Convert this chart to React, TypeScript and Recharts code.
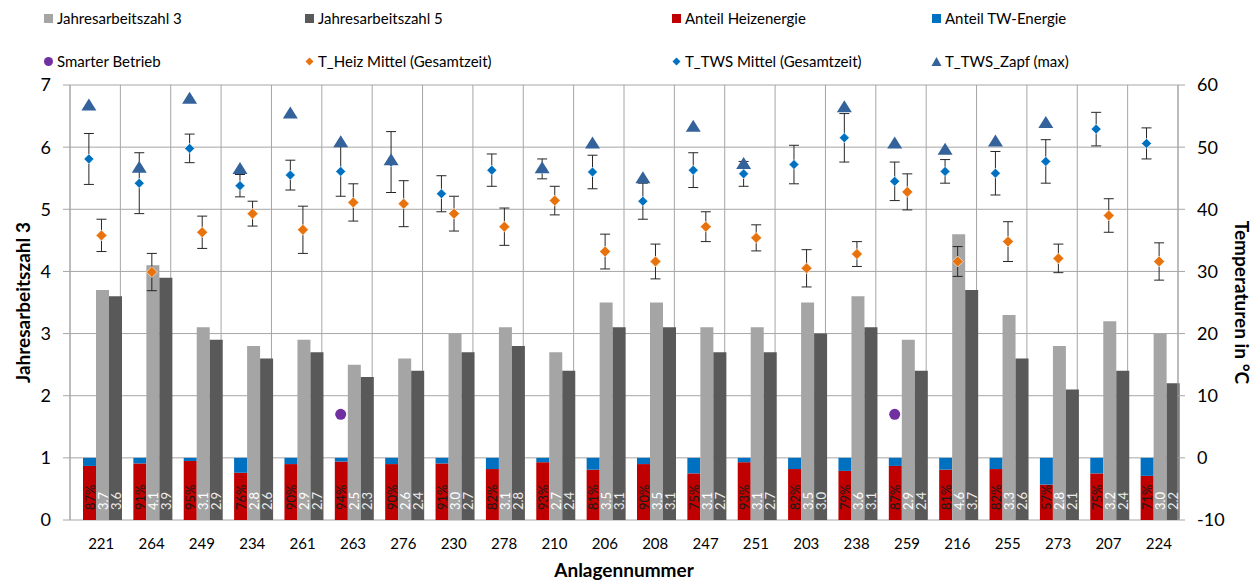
import React from 'react';
import {
  ComposedChart,
  Bar,
  Scatter,
  XAxis,
  YAxis,
  CartesianGrid,
  ErrorBar,
  LabelList,
  Label,
} from 'recharts';

const anlagen = ['221', '264', '249', '234', '261', '263', '276', '230', '278', '210', '206', '208', '247', '251', '203', '238', '259', '216', '255', '273', '207', '224'];
const jaz3 = [3.7, 4.1, 3.1, 2.8, 2.9, 2.5, 2.6, 3.0, 3.1, 2.7, 3.5, 3.5, 3.1, 3.1, 3.5, 3.6, 2.9, 4.6, 3.3, 2.8, 3.2, 3.0];
const jaz5 = [3.6, 3.9, 2.9, 2.6, 2.7, 2.3, 2.4, 2.7, 2.8, 2.4, 3.1, 3.1, 2.7, 2.7, 3.0, 3.1, 2.4, 3.7, 2.6, 2.1, 2.4, 2.2];
const anteilHeiz = [87, 91, 95, 76, 90, 94, 90, 91, 82, 93, 81, 90, 75, 93, 82, 79, 87, 81, 82, 57, 75, 71];
const smarterBetrieb = [null, null, null, null, null, 1.7, null, null, null, null, null, null, null, null, null, null, 1.7, null, null, null, null, null];
const tHeiz = [35.8, 29.9, 36.3, 39.3, 36.7, 41.1, 40.9, 39.3, 37.2, 41.4, 33.2, 31.6, 37.2, 35.4, 30.5, 32.8, 42.8, 31.6, 34.8, 32.1, 39.0, 31.6];
const tHeizErr = [2.6, 3.0, 2.6, 2.0, 3.8, 3.0, 3.7, 2.8, 3.0, 2.3, 2.8, 2.8, 2.4, 2.1, 3.0, 2.0, 2.9, 2.4, 3.2, 2.3, 2.7, 3.0];
const tTws = [48.1, 44.2, 49.8, 43.8, 45.5, 46.1, 47.6, 42.5, 46.3, 46.5, 46.0, 41.3, 46.3, 45.7, 47.2, 51.5, 44.5, 46.1, 45.8, 47.7, 52.9, 50.6];
const tTwsErr = [4.1, 4.9, 2.3, 1.8, 2.4, 4.0, 4.9, 2.9, 2.6, 1.6, 2.7, 2.9, 2.8, 2.0, 3.1, 3.9, 3.1, 1.9, 3.5, 3.5, 2.7, 2.5];
const tTwsZapf = [56.7, 46.7, 57.8, 46.5, 55.4, 50.8, 47.9, null, null, 46.6, 50.6, 45.0, 53.3, 47.3, null, 56.4, 50.6, 49.6, 50.9, 53.9, null, null];
const jazTicks = [0, 1, 2, 3, 4, 5, 6, 7];
const tempTicks = [-10, 0, 10, 20, 30, 40, 50, 60];

const C_JAZ3 = '#A5A5A5';
const C_JAZ5 = '#595959';
const C_HEIZ = '#C00000';
const C_TW = '#0070C0';
const C_SMART = '#7030A0';
const C_THEIZ = '#E8720C';
const C_TTWS = '#0070C0';
const C_ZAPF = '#34629A';
const C_GRID = '#A6A6A6';
const FONT = 'Lato, "Open Sans", sans-serif';

// each category has 4 slots: empty, heat/TW stack, JAZ3, JAZ5
const slotPos = (i: number, slot: number) => i + (slot + 0.5) / 4;

const barData = anlagen.map((a, i) => ({
  anlage: a,
  pct: anteilHeiz[i],
  heiz: anteilHeiz[i] / 100,
  tw: 1 - anteilHeiz[i] / 100,
  jaz3: jaz3[i],
  jaz5: jaz5[i],
}));
const heizPoints = tHeiz.map((t, i) => ({ x: slotPos(i, 2), y: t, err: tHeizErr[i] }));
const twsPoints = tTws.map((t, i) => ({ x: slotPos(i, 1), y: t, err: tTwsErr[i] }));
const zapfPoints = tTwsZapf
  .map((t, i) => ({ x: slotPos(i, 1), y: t }))
  .filter((p) => p.y !== null);
const smartPoints = smarterBetrieb
  .map((v, i) => ({ x: slotPos(i, 1), y: v }))
  .filter((p) => p.y !== null);
const boundaryTicks = anlagen.map((_, i) => i).concat(anlagen.length);

const vertLabel = (color: string, suffix: string) => (props: any) => {
  const { x, y, width, height, value } = props;
  const cx = Number(x) + Number(width) / 2;
  const by = Number(y) + Number(height) - 10;
  return (
    <text
      x={cx}
      y={by}
      transform={`rotate(-90 ${cx} ${by})`}
      fill={color}
      fontSize={13}
      fontFamily={FONT}
      dominantBaseline="central"
      textAnchor="start"
    >
      {suffix === '' ? Number(value).toFixed(1) : `${value}${suffix}`}
    </text>
  );
};

const diamond = (color: string, r: number) => (props: any) => {
  const { cx, cy } = props;
  return (
    <polygon
      points={`${cx},${cy - r} ${cx + r},${cy} ${cx},${cy + r} ${cx - r},${cy}`}
      fill={color}
      stroke="#ffffff"
      strokeWidth={0.6}
    />
  );
};

const triangle = (props: any) => {
  const { cx, cy } = props;
  return <polygon points={`${cx},${cy - 7} ${cx + 7.5},${cy + 5} ${cx - 7.5},${cy + 5}`} fill={C_ZAPF} />;
};

const circle = (props: any) => <circle cx={props.cx} cy={props.cy} r={5.5} fill={C_SMART} />;

const nothing = () => <g />;

function LegendIcon({ kind, color }: { kind: string; color: string }) {
  return (
    <svg width={11} height={11} style={{ display: 'block' }}>
      {kind === 'square' && <rect x={1} y={1} width={9} height={9} fill={color} />}
      {kind === 'circle' && <circle cx={5.5} cy={5.5} r={4.5} fill={color} />}
      {kind === 'diamond' && <polygon points="5.5,1.5 9.5,5.5 5.5,9.5 1.5,5.5" fill={color} />}
      {kind === 'triangle' && <polygon points="5.5,1 10.5,10 0.5,10" fill={color} />}
    </svg>
  );
}

const legendCols = [43, 304, 671, 931];
const legendRows = [18, 61];
const legendItems = [
  { name: 'Jahresarbeitszahl 3', kind: 'square', color: C_JAZ3 },
  { name: 'Jahresarbeitszahl 5', kind: 'square', color: C_JAZ5 },
  { name: 'Anteil Heizenergie', kind: 'square', color: C_HEIZ },
  { name: 'Anteil TW-Energie', kind: 'square', color: C_TW },
  { name: 'Smarter Betrieb', kind: 'circle', color: C_SMART },
  { name: 'T_Heiz Mittel (Gesamtzeit)', kind: 'diamond', color: C_THEIZ },
  { name: 'T_TWS Mittel (Gesamtzeit)', kind: 'diamond', color: C_TTWS },
  { name: 'T_TWS_Zapf (max)', kind: 'triangle', color: C_ZAPF },
];

export default function App() {
  return (
    <div style={{ position: 'absolute', left: 0, top: 0, width: 1260, height: 584, background: '#fff', fontFamily: FONT }}>
      <ComposedChart
        width={1260}
        height={584}
        data={barData}
        margin={{ top: 85, right: 0, bottom: 0, left: 0 }}
        barCategoryGap={0}
        barGap={0}
      >
        <CartesianGrid xAxisId="n" yAxisId="left" stroke={C_GRID} />
        <XAxis
          xAxisId="n"
          dataKey="x"
          type="number"
          domain={[0, anlagen.length]}
          allowDataOverflow
          ticks={boundaryTicks}
          interval={0}
          tickFormatter={() => ''}
          tickSize={6}
          tickLine={{ stroke: C_GRID }}
          axisLine={{ stroke: C_GRID }}
          height={0}
        />
        <XAxis
          xAxisId="c"
          dataKey="anlage"
          type="category"
          interval={0}
          tickLine={false}
          axisLine={false}
          tickSize={6}
          tickMargin={12}
          height={64}
          tick={{ fontSize: 15, fill: '#000', dx: 6, fontFamily: FONT }}
        >
          <Label
            content={(p: any) => (
              <text
                x={p.viewBox.x + p.viewBox.width / 2}
                y={p.viewBox.y + 57}
                textAnchor="middle"
                fontSize={19}
                fontWeight="bold"
                fontFamily={FONT}
                fill="#000"
              >
                Anlagennummer
              </text>
            )}
          />
        </XAxis>
        <YAxis
          yAxisId="left"
          domain={[0, 7]}
          ticks={jazTicks}
          interval={0}
          width={70}
          tickSize={7}
          tickMargin={12}
          tickLine={{ stroke: C_GRID }}
          axisLine={{ stroke: C_GRID }}
          tick={{ fontSize: 18, fill: '#000', fontFamily: FONT }}
        >
          <Label
            content={(p: any) => {
              const x = p.viewBox.x + 22;
              const y = p.viewBox.y + p.viewBox.height / 2;
              return (
                <text
                  x={x}
                  y={y}
                  transform={`rotate(-90 ${x} ${y})`}
                  textAnchor="middle"
                  dominantBaseline="central"
                  fontSize={19}
                  fontWeight="bold"
                  fontFamily={FONT}
                  fill="#000"
                >
                  Jahresarbeitszahl 3
                </text>
              );
            }}
          />
        </YAxis>
        <YAxis
          yAxisId="right"
          orientation="right"
          domain={[-10, 60]}
          ticks={tempTicks}
          interval={0}
          width={82}
          tickSize={7}
          tickMargin={12}
          tickLine={{ stroke: C_GRID }}
          axisLine={{ stroke: C_GRID }}
          tick={{ fontSize: 18, fill: '#000', fontFamily: FONT }}
        >
          <Label
            content={(p: any) => {
              const x = p.viewBox.x + 64;
              const y = p.viewBox.y + p.viewBox.height / 2;
              return (
                <text
                  x={x}
                  y={y}
                  transform={`rotate(90 ${x} ${y})`}
                  textAnchor="middle"
                  dominantBaseline="central"
                  fontSize={19}
                  fontWeight="bold"
                  fontFamily={FONT}
                  fill="#000"
                >
                  Temperaturen in °C
                </text>
              );
            }}
          />
        </YAxis>

        <Bar xAxisId="c" yAxisId="left" dataKey="pad" stackId="pad" fill="none" isAnimationActive={false} />
        <Bar xAxisId="c" yAxisId="left" dataKey="heiz" stackId="anteil" fill={C_HEIZ} isAnimationActive={false}>
          <LabelList dataKey="pct" content={vertLabel('#1a1a1a', '%')} />
        </Bar>
        <Bar xAxisId="c" yAxisId="left" dataKey="tw" stackId="anteil" fill={C_TW} isAnimationActive={false} />
        <Bar xAxisId="c" yAxisId="left" dataKey="jaz3" stackId="j3" fill={C_JAZ3} isAnimationActive={false}>
          <LabelList dataKey="jaz3" content={vertLabel('#ffffff', '')} />
        </Bar>
        <Bar xAxisId="c" yAxisId="left" dataKey="jaz5" stackId="j5" fill={C_JAZ5} isAnimationActive={false}>
          <LabelList dataKey="jaz5" content={vertLabel('#ececec', '')} />
        </Bar>

        <Scatter xAxisId="n" yAxisId="left" data={smartPoints} dataKey="y" shape={circle} isAnimationActive={false} />
        <Scatter xAxisId="n" yAxisId="right" data={heizPoints} dataKey="y" shape={diamond(C_THEIZ, 5.5)} isAnimationActive={false}>
          <ErrorBar dataKey="err" direction="y" width={5} stroke="#262626" strokeWidth={1} />
        </Scatter>
        <Scatter xAxisId="n" yAxisId="right" data={twsPoints} dataKey="y" shape={diamond(C_TTWS, 5)} isAnimationActive={false} />
        <Scatter xAxisId="n" yAxisId="right" data={zapfPoints} dataKey="y" shape={triangle} isAnimationActive={false} />
        <Scatter xAxisId="n" yAxisId="right" data={twsPoints} dataKey="y" shape={nothing} isAnimationActive={false}>
          <ErrorBar dataKey="err" direction="y" width={5} stroke="#262626" strokeWidth={1} />
        </Scatter>
      </ComposedChart>

      {legendItems.map((item, idx) => (
        <div
          key={item.name}
          style={{
            position: 'absolute',
            left: legendCols[idx % 4],
            top: legendRows[Math.floor(idx / 4)] - 10,
            height: 20,
            display: 'flex',
            alignItems: 'center',
            gap: 3,
            fontSize: 15,
            color: '#000',
            whiteSpace: 'nowrap',
          }}
        >
          <LegendIcon kind={item.kind} color={item.color} />
          <span>{item.name}</span>
        </div>
      ))}
    </div>
  );
}
